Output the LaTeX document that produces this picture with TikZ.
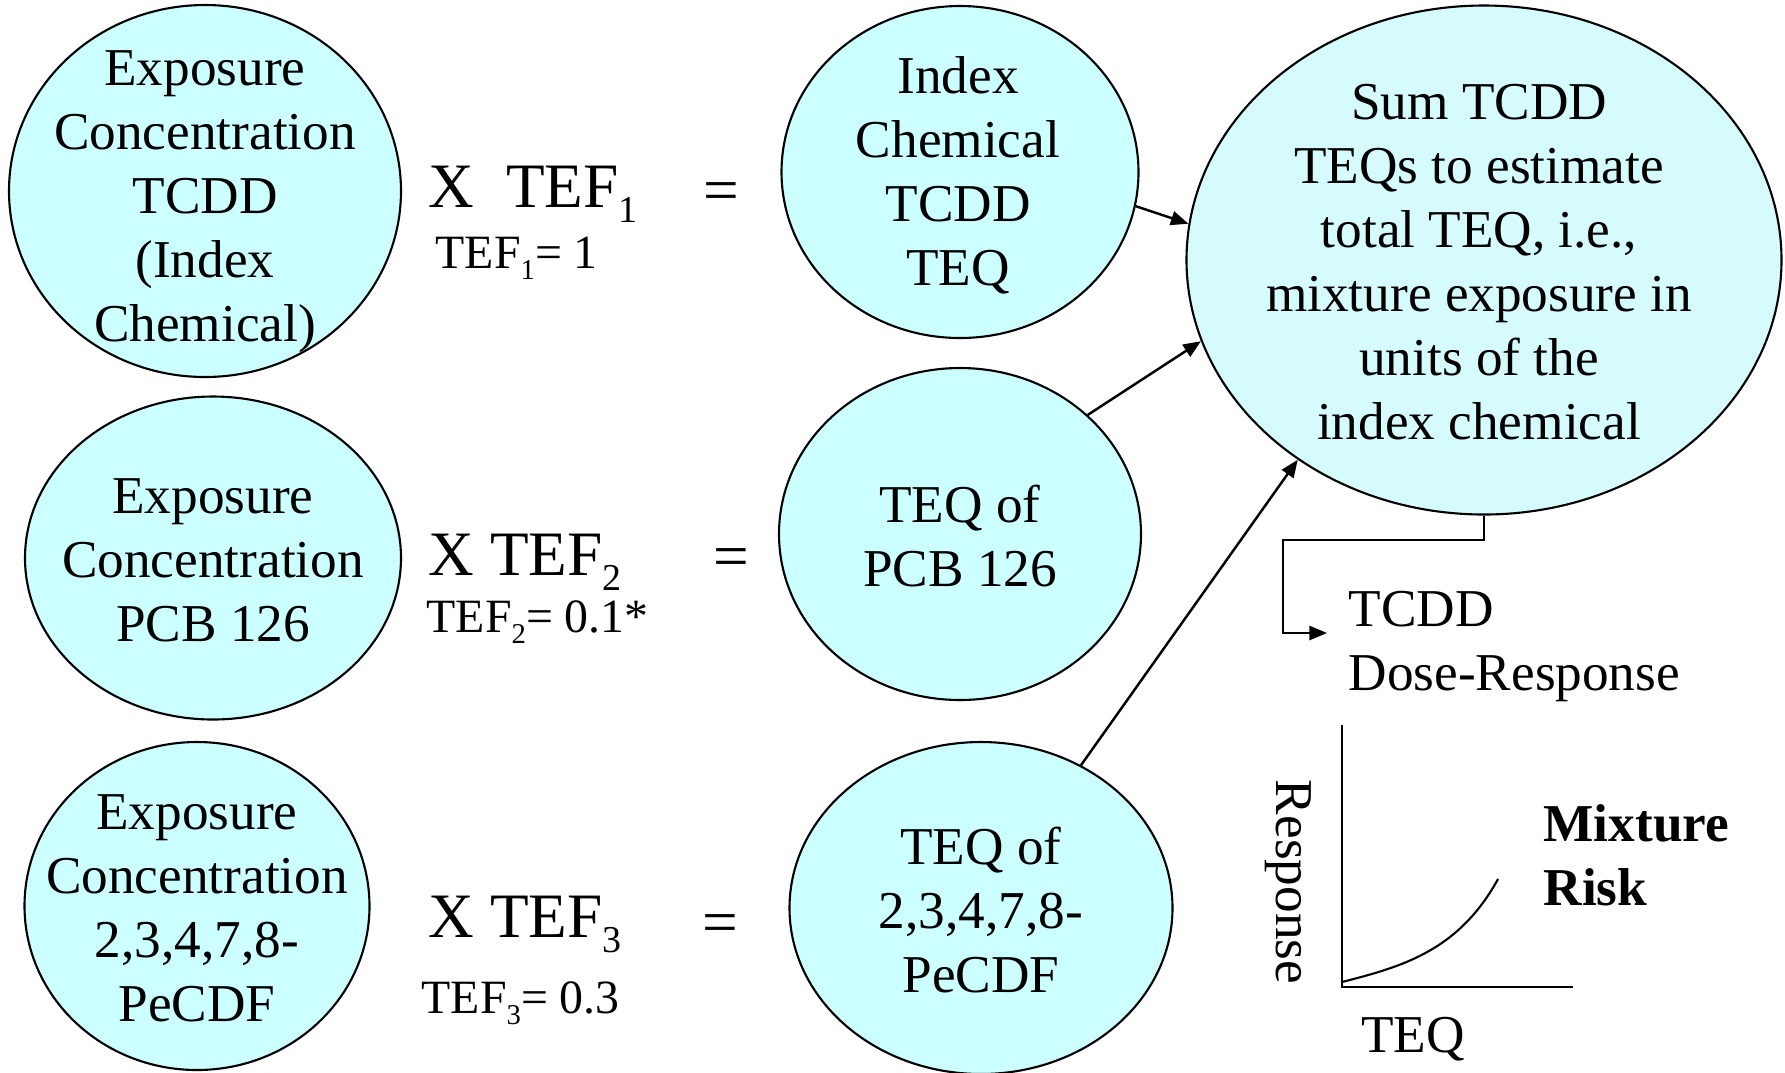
\documentclass[tikz,border=0pt]{standalone}
\usepackage{fontspec}
\usepackage{graphicx}
\setmainfont{Liberation Serif}
\usetikzlibrary{shapes.geometric,arrows.meta}

\definecolor{teqfill}{HTML}{CCFFFF}
\definecolor{sumfill}{HTML}{D6FBFD}

% font sizes used in the figure
\newcommand\bodyfont{\fontsize{15.15}{18.2}\selectfont}
\newcommand\eqfont{\fontsize{18}{21}\selectfont}
\newcommand\teffont{\fontsize{13.6}{15}\selectfont}
% lowered, reduced subscript
\newcommand\lowsub[1]{\raisebox{-0.24em}{\scalebox{0.6}{#1}}}

\begin{document}
\begin{tikzpicture}[x=0.1mm,y=-0.1mm,
  blob/.style={ellipse,draw=black,line width=0.6pt,fill=teqfill,inner sep=0pt},
  blobtext/.style={align=center,font=\bodyfont,inner sep=0pt},
  eqtext/.style={anchor=base west,font=\eqfont,inner sep=0pt},
  teftext/.style={anchor=base west,font=\teffont,inner sep=0pt},
  eqsign/.style={font=\eqfont,inner sep=0pt},
  conn/.style={line width=0.7pt,-{Triangle[length=5pt,width=4pt]}},
  axis/.style={line width=0.6pt}]

\fill[white] (0,0) rectangle (1785,1072);
\useasboundingbox (0,0) rectangle (1785,1072);

% exposure concentrations
\node[blob,minimum width=39.2mm,minimum height=37.2mm] (e1) at (205,191) {};
\node[blobtext] (e1t) at (205,202) {Exposure\\Concentration\\TCDD\\(Index\\Chemical)};
\node[blob,minimum width=37.6mm,minimum height=32.3mm] (e2) at (213,558) {};
\node[blobtext] (e2t) at (213,560) {Exposure\\Concentration\\PCB 126};
\node[blob,minimum width=34.5mm,minimum height=32.8mm] (e3) at (197,906) {};
\node[blobtext] (e3t) at (197,908) {Exposure\\Concentration\\2,3,4,7,8-\\PeCDF};

% toxic equivalency factors
\node[eqtext] (x1) at (428,207) {X\hspace{0.5em}TEF\lowsub{1}};
\node[teftext] (f1) at (435,268) {TEF\lowsub{1}= 1};
\node[eqsign] (q1) at (721,197) {=};
\node[eqtext] (x2) at (428,575) {X TEF\lowsub{2}};
\node[teftext] (f2) at (426,632) {TEF\lowsub{2}= 0.1*};
\node[eqsign] (q2) at (731,563) {=};
\node[eqtext] (x3) at (428,937) {X TEF\lowsub{3}};
\node[teftext] (f3) at (421,1013) {TEF\lowsub{3}= 0.3};
\node[eqsign] (q3) at (720,929) {=};

% toxic equivalents
\node[blob,minimum width=35.7mm,minimum height=33.2mm] (m1) at (960,172) {};
\node[blobtext] (m1t) at (958,175) {Index\\Chemical\\TCDD\\TEQ};
\node[blob,minimum width=36.2mm,minimum height=33.2mm] (m2) at (960,534) {};
\node[blobtext] (m2t) at (960,536) {TEQ of\\PCB 126};
\node[blob,minimum width=38.3mm,minimum height=33.2mm] (m3) at (981,908) {};
\node[blobtext] (m3t) at (981,910) {TEQ of\\2,3,4,7,8-\\PeCDF};

% summed TEQ
\node[blob,fill=sumfill,minimum width=59.5mm,minimum height=50.9mm] (big) at (1484,260) {};
\node[blobtext] (bigt) at (1479,262) {Sum TCDD\\TEQs to estimate\\total TEQ, i.e.,\\mixture exposure in\\units of the\\index chemical};

\draw[conn] (m1.-11) -- (big.173);
\draw[conn] (m2.43) -- (big.196);
\draw[conn] (m3.55) -- (big.227);

% route to the dose-response curve
\coordinate (bend) at (1283,540);
\coordinate (drtip) at (1327,633);
\draw[conn] (big.south) |- (bend) |- (drtip);
\node[anchor=west,align=left,font=\bodyfont,inner sep=0pt] (dr) at (1348,647) {TCDD\\Dose-Response};

% dose-response sketch
\coordinate (ytop) at (1342,725);
\coordinate (orig) at (1342,987);
\coordinate (xend) at (1573,987);
\coordinate (cstart) at (1342,982);
\coordinate (cend) at (1498,879);
\draw[axis] (ytop) -- (orig) -- (xend);
\draw[line width=0.6pt] (cstart) .. controls (1400,967) and (1458,952) .. (cend);
\node[rotate=-90,font=\bodyfont,inner sep=0pt] (resp) at (1288,882) {Response};
\node[font=\bodyfont,inner sep=0pt] (teq) at (1413,1039) {TEQ};
\node[anchor=west,align=left,font=\bodyfont\bfseries,inner sep=0pt] (mix) at (1543,855) {Mixture\\Risk};

\end{tikzpicture}
\end{document}
